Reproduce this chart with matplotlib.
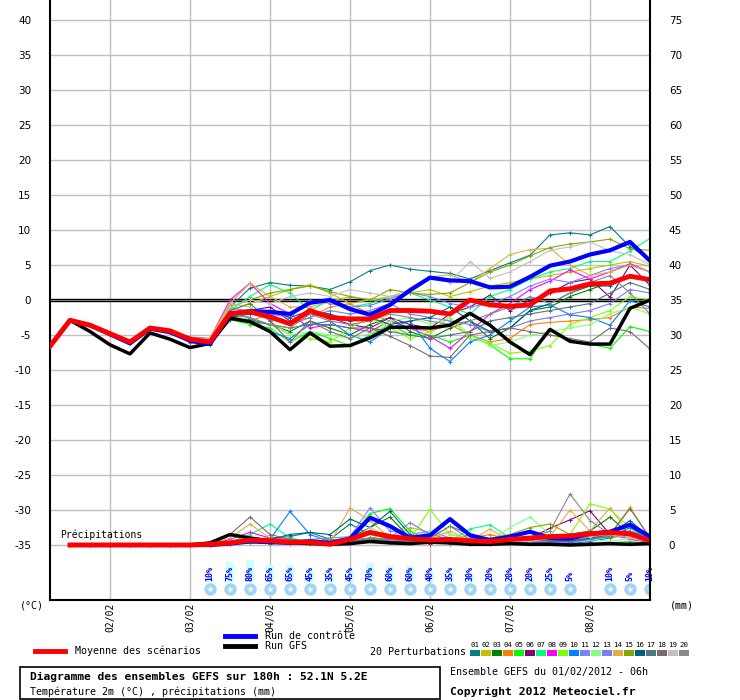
import numpy as np
import matplotlib.pyplot as plt
from matplotlib.patches import Rectangle

# pas de 6h depuis le 01/02/2012 06h
heures = np.arange(0, 181, 6)
heures_pluie = heures[1:]

jours = ['02/02', '03/02', '04/02', '05/02', '06/02', '07/02', '08/02']
jours_h = [18, 42, 66, 90, 114, 138, 162]

# temperatures (°C)
moyenne_t = [-6.6, -2.9, -3.6, -4.8, -6.0, -4.0, -4.4, -5.6, -6.0, -1.9, -1.7, -2.4, -3.4, -1.5, -2.5, -2.7,
             -2.7, -1.5, -1.5, -1.6, -2.0, 0.0, -0.7, -0.9, -0.7, 1.3, 1.6, 2.3, 2.4, 3.4, 2.9]
gfs_t = [-6.6, -2.9, -4.5, -6.4, -7.7, -4.7, -5.6, -6.8, -6.2, -2.6, -3.1, -4.5, -7.1, -4.7, -6.6, -6.5,
         -5.4, -3.9, -3.9, -4.0, -3.6, -1.9, -3.6, -6.0, -7.8, -4.2, -5.9, -6.3, -6.3, -1.2, 0.0]
controle_t = [-6.6, -2.9, -3.6, -4.9, -6.2, -4.1, -4.6, -5.8, -6.3, -2.0, -1.6, -1.7, -2.0, -0.4, 0.0, -1.3,
              -2.1, -0.7, 1.4, 3.2, 2.8, 2.7, 1.8, 1.9, 3.3, 4.9, 5.5, 6.5, 7.1, 8.3, 5.6]

debut_t = [-6.6, -2.9, -3.5, -4.8, -6.1, -4.0, -4.5]
pert_t = [
    [-5.5, -5.6, -1.0, 1.7, 2.5, 2.1, 2.0, 1.5, 2.6, 4.2, 5.0, 4.4, 4.1, 3.8, 3.0, 4.2, 5.3, 6.4, 9.3, 9.6, 9.3, 10.5, 7.6, 5.9],
    [-5.8, -6.0, -1.5, -0.5, 0.5, 1.5, 2.2, 1.0, -0.5, 0.0, 0.3, 1.0, 1.5, 0.5, 1.2, 2.0, 2.5, 3.0, 3.5, 4.0, 4.5, 5.0, 5.5, 4.8],
    [-5.6, -6.1, -2.5, -2.8, -3.5, -4.5, -3.0, -4.0, -5.0, -3.5, -2.5, -4.5, -5.5, -4.0, -3.0, -5.5, -4.0, -1.5, -1.0, 0.5, 1.5, 2.5, 3.5, 3.0],
    [-5.7, -6.0, -2.2, -3.0, -2.0, -3.5, -2.5, -1.0, -0.5, -2.0, -3.0, -4.0, -4.5, -3.5, -5.0, -6.0, -5.5, -3.5, -3.2, -3.0, -2.8, -2.5, -1.0, -1.2],
    [-5.9, -6.2, -2.8, -3.5, -4.0, -6.0, -4.5, -5.5, -6.5, -5.0, -3.5, -5.0, -5.0, -6.0, -5.0, -6.4, -8.4, -8.4, -4.2, -5.9, -6.3, -6.9, -3.8, -4.5],
    [-6.0, -6.3, -2.5, -1.5, -1.0, -3.0, -2.0, -2.5, -3.5, -4.0, -2.5, -3.5, -4.0, -2.0, -1.0, 0.7, -1.5, 0.0, 1.0, 2.5, 3.0, 0.4, 5.0, 2.1],
    [-5.5, -5.8, -1.5, 0.5, 2.2, 1.0, -1.5, 0.0, -1.0, -0.5, 0.5, 1.0, 0.0, -1.0, -2.0, 0.5, 1.5, 3.0, 4.0, 4.5, 5.5, 5.5, 7.0, 8.8],
    [-5.3, -5.5, 0.0, 2.4, -0.5, -2.0, -4.0, -3.5, -4.0, -4.5, -3.0, -4.0, -5.2, -6.9, -4.5, -2.0, -0.5, 1.5, 2.7, 4.3, 3.0, 4.0, 5.2, 4.0],
    [-5.4, -5.6, -0.5, -1.0, -3.0, -5.0, -5.5, -6.0, -4.0, -2.5, -4.0, -5.5, -4.5, -2.5, -5.5, -6.2, -7.6, -7.3, -6.5, -3.5, -2.5, -1.5, 0.5, 0.0],
    [-5.7, -6.0, -2.0, -2.5, -4.5, -5.5, -3.5, -3.0, -5.0, -6.0, -4.0, -3.0, -6.9, -8.8, -6.0, -5.0, -3.0, -1.0, -0.7, -2.1, -2.5, -3.6, -0.1, -1.0],
    [-5.6, -5.9, -1.2, -1.5, -2.0, -2.5, 0.0, -0.5, -1.0, -0.8, 0.2, 1.0, 0.5, -0.5, -1.0, -0.5, 0.5, 2.0, 3.0, 2.5, 3.5, 4.5, 5.0, 4.0],
    [-5.8, -6.1, -2.0, -3.0, -3.5, -5.0, -4.5, -5.0, -5.5, -4.8, -3.0, -2.5, -3.5, -2.5, -5.0, -6.5, -6.0, -5.0, -4.5, -4.0, -3.5, -2.0, -1.0, -2.0],
    [-5.9, -6.2, -2.3, -1.8, -2.8, -3.5, -2.5, -1.5, -2.0, -1.5, -0.5, -2.0, -2.5, -3.0, -3.5, -4.5, -4.0, -3.0, -2.5, -2.0, -1.5, -0.5, 1.5, 1.0],
    [-5.4, -5.5, -0.5, 2.4, 0.5, -1.0, -1.0, -0.2, 0.5, 0.0, 0.5, 1.0, 3.3, 3.6, 2.5, 4.5, 6.5, 7.2, 7.4, 5.0, 3.5, 4.0, 5.0, 4.0],
    [-5.5, -5.7, -1.0, 0.0, 1.0, 1.5, 2.0, 1.2, 0.5, 0.0, 1.5, 1.0, 0.8, 1.0, 2.5, 4.0, 5.0, 6.3, 7.5, 8.0, 8.3, 8.7, 7.3, 7.1],
    [-5.8, -6.0, -2.5, -2.0, -1.5, -2.5, -1.5, -2.0, -3.0, -2.5, -3.5, -3.0, -2.5, -1.0, -3.0, -4.5, -4.0, -1.5, -0.5, 1.0, 2.0, 2.0, 3.5, 3.0],
    [-6.1, -6.4, -2.8, -3.0, -3.5, -4.0, -3.5, -3.5, -4.0, -4.0, -4.5, -5.0, -5.5, -5.0, -4.5, -3.0, -2.5, -2.0, -1.5, -1.0, -0.5, 1.0, 2.5, 1.5],
    [-5.4, -5.7, -1.5, -0.5, -3.0, -6.0, -3.0, -4.5, -5.5, -4.0, -5.2, -6.5, -8.0, -8.2, -5.0, -4.5, -4.0, -4.5, -5.0, -5.5, -6.0, -4.0, -4.5, -7.0],
    [-5.5, -5.6, -1.0, 0.0, -0.5, 0.5, 1.0, 0.5, 1.5, 1.0, 0.5, 1.5, 3.0, 2.5, 5.5, 3.1, 4.0, 5.5, 7.1, 7.6, 8.3, 7.0, 6.5, 5.0],
    [-5.7, -5.9, -2.0, -2.5, -3.5, -4.0, -2.0, -3.0, -3.5, -3.0, -2.0, -2.5, -3.0, -3.5, -3.0, -2.0, -1.0, 0.5, -0.5, 1.0, 2.5, 3.5, 1.0, -2.0],
]

# precipitations (mm), a partir de +6h
debut_p = [0, 0, 0, 0, 0, 0]
moyenne_p = [0.0, 0.1, 0.3, 0.7, 0.6, 0.4, 0.4, 0.1, 0.8, 1.8, 1.2, 0.9, 0.7, 0.8, 0.6, 0.5, 0.8, 1.0, 1.2, 1.3, 1.6, 1.8, 1.6, 0.6]
gfs_p = [0.0, 0.3, 1.5, 1.0, 0.6, 0.3, 0.2, 0.1, 0.2, 0.5, 0.3, 0.2, 0.4, 0.3, 0.1, 0.1, 0.2, 0.1, 0.1, 0.0, 0.1, 0.2, 0.1, 0.2]
controle_p = [0.0, 0.0, 0.2, 0.5, 0.4, 0.3, 0.5, 0.3, 0.9, 3.9, 2.7, 1.0, 1.4, 3.7, 1.4, 0.7, 1.2, 1.9, 1.0, 0.9, 1.6, 1.9, 2.9, 1.2]
pert_p = [
    [0, 0.1, 0.5, 0.8, 1.0, 1.2, 1.8, 0.8, 3.0, 1.5, 1.0, 0.5, 0.8, 0.5, 1.5, 0.4, 0.6, 0.8, 1.0, 0.5, 1.2, 1.5, 1.0, 0.3],
    [0, 0, 0.2, 0.4, 0.3, 0.5, 0.3, 0.2, 0.6, 1.5, 0.8, 2.5, 1.8, 0.5, 0.3, 0.8, 0.6, 0.5, 0.4, 1.2, 0.8, 1.5, 5.4, 1.0],
    [0, 0, 0.3, 0.5, 0.2, 0.3, 0.6, 0.4, 1.0, 2.5, 4.0, 1.0, 0.6, 0.2, 0.4, 0.3, 1.0, 0.5, 1.5, 0.8, 2.0, 4.0, 1.5, 1.0],
    [0, 0.1, 0.4, 1.0, 0.5, 0.8, 0.3, 0.5, 1.2, 2.0, 1.5, 0.8, 0.5, 0.6, 1.0, 1.5, 0.8, 0.5, 0.3, 0.6, 1.5, 2.0, 1.2, 0.4],
    [0, 0, 0.2, 0.3, 0.5, 0.3, 0.2, 0.5, 1.0, 4.5, 5.2, 2.0, 0.5, 1.0, 0.5, 0.3, 0.5, 0.8, 0.5, 0.3, 0.2, 0.3, 0.5, 0.2],
    [0, 0, 0.3, 0.8, 0.4, 0.2, 0.3, 0.2, 0.5, 0.8, 0.5, 0.4, 0.2, 0.3, 0.2, 0.4, 0.3, 1.0, 2.4, 3.6, 4.9, 1.5, 1.0, 0.3],
    [0, 0, 0.4, 1.5, 3.0, 1.0, 0.5, 0.3, 0.8, 2.0, 1.5, 0.6, 1.0, 0.5, 2.3, 2.9, 1.0, 0.5, 1.5, 1.0, 0.8, 1.2, 2.5, 0.5],
    [0, 0.1, 0.8, 1.8, 1.0, 0.8, 0.5, 0.3, 0.5, 1.0, 0.6, 0.4, 0.3, 0.5, 0.3, 0.4, 0.6, 0.5, 0.8, 0.6, 1.0, 1.5, 0.8, 0.4],
    [0, 0, 0.2, 0.5, 0.3, 0.2, 0.5, 0.3, 0.4, 1.0, 1.5, 0.8, 5.1, 1.5, 0.8, 0.5, 0.3, 0.8, 1.0, 1.5, 5.9, 5.1, 2.5, 0.8],
    [0, 0, 0.3, 0.5, 0.8, 4.8, 1.5, 0.5, 0.3, 1.0, 0.5, 0.3, 0.5, 0.8, 0.3, 0.2, 0.5, 0.3, 0.4, 0.2, 0.5, 1.0, 2.5, 0.8],
    [0, 0, 0.2, 0.6, 0.4, 0.5, 0.8, 1.0, 1.2, 5.3, 2.0, 1.5, 2.0, 1.0, 0.5, 0.3, 0.6, 0.4, 0.5, 0.3, 0.8, 1.5, 2.0, 1.0],
    [0, 0, 0.3, 0.5, 0.6, 0.3, 0.4, 0.5, 0.6, 1.5, 1.0, 0.8, 2.0, 1.5, 1.0, 0.5, 2.5, 4.0, 1.5, 1.0, 0.8, 0.5, 1.0, 0.4],
    [0, 0, 0.2, 0.4, 0.3, 0.5, 0.3, 0.2, 0.4, 0.6, 1.0, 3.2, 1.5, 0.8, 0.5, 0.3, 0.5, 0.8, 0.6, 0.5, 1.0, 2.0, 2.8, 1.5],
    [0, 0.1, 1.0, 3.0, 1.0, 0.6, 0.5, 0.3, 5.3, 3.5, 1.0, 0.5, 0.8, 2.0, 0.6, 2.3, 0.5, 0.8, 1.2, 5.0, 2.0, 5.3, 1.5, 0.5],
    [0, 0, 0.3, 0.5, 0.4, 0.3, 0.5, 0.8, 0.6, 1.0, 0.8, 0.5, 0.6, 0.4, 0.8, 1.0, 1.5, 2.5, 3.0, 1.5, 2.0, 1.0, 1.5, 0.6],
    [0, 0, 0.2, 0.5, 0.8, 1.5, 1.8, 1.5, 3.7, 2.5, 4.8, 1.5, 0.8, 0.5, 0.3, 0.5, 0.8, 1.0, 0.6, 0.5, 1.0, 1.5, 3.5, 1.0],
    [0, 0, 0.3, 0.6, 0.4, 0.5, 0.8, 0.5, 0.6, 1.0, 0.8, 0.6, 1.0, 2.7, 1.5, 0.8, 0.5, 0.8, 0.6, 0.5, 0.8, 1.2, 2.0, 0.8],
    [0, 0.2, 1.5, 4.0, 1.5, 0.8, 0.5, 0.3, 0.6, 0.8, 0.5, 0.4, 0.6, 0.5, 0.3, 0.4, 0.5, 0.6, 0.8, 1.5, 2.0, 1.5, 5.2, 1.0],
    [0, 0, 0.2, 0.4, 0.3, 0.2, 0.4, 0.3, 0.5, 2.5, 1.0, 0.5, 0.4, 0.3, 0.5, 0.8, 0.6, 0.5, 1.0, 0.8, 1.2, 1.5, 1.0, 0.5],
    [0, 0, 0.3, 0.5, 0.4, 0.3, 0.5, 0.4, 0.6, 1.0, 0.8, 0.5, 1.0, 2.7, 0.8, 0.5, 0.6, 1.0, 2.0, 7.3, 3.5, 1.5, 2.0, 0.4],
]

couleurs = ['#008080', '#c0c000', '#008000', '#ff8000', '#00ff00', '#800080', '#00ff80',
            '#ff00ff', '#80ff00', '#0080ff', '#8080ff', '#80ff80', '#7c7cf4', '#e0b040',
            '#80a800', '#006080', '#507880', '#806870', '#c0c0c0', '#888888']

# probabilite de neige
neige_h = heures[8:]
neige_pct = [10, 75, 80, 65, 65, 45, 35, 45, 70, 60, 60, 40, 35, 30, 20, 20, 20, 25, 5, 0, 10, 5, 10]

mono = 'DejaVu Sans Mono'
base_p = -35  # 0 mm sur l'axe des temperatures

fig = plt.figure(figsize=(7.4, 7.0), dpi=100)
ax = fig.add_axes([50/740, 100/700, 600/740, 600/700])
ax.set_xlim(0, 180)
ax.set_ylim(-300/7, 300/7)

yticks = list(range(-35, 41, 5))
for y in yticks:
    ax.axhline(y, color='#c0c0c0', lw=1, zorder=1)
for h in jours_h:
    ax.axvline(h, color='#c0c0c0', lw=1, zorder=1)
ax.axhline(0.17, color='black', lw=1, zorder=2)
ax.axhline(-0.17, color='black', lw=1, zorder=2)

for k in range(20):
    t = debut_t + pert_t[k]
    p = np.array(debut_p + pert_p[k]) + base_p
    ax.plot(heures, t, color=couleurs[k], lw=0.8, marker='+', ms=3, mew=0.7, zorder=3)
    ax.plot(heures_pluie, p, color=couleurs[k], lw=0.8, marker='+', ms=3, mew=0.7, zorder=3)

ax.plot(heures, gfs_t, color='black', lw=2.5, zorder=4)
ax.plot(heures_pluie, np.array(debut_p + gfs_p) + base_p, color='black', lw=2.5, zorder=4)
ax.plot(heures, controle_t, color='blue', lw=3, zorder=5)
ax.plot(heures_pluie, np.array(debut_p + controle_p) + base_p, color='blue', lw=3, zorder=5)
ax.plot(heures, moyenne_t, color='red', lw=3.5, zorder=6)
ax.plot(heures_pluie, np.array(debut_p + moyenne_p) + base_p, color='red', lw=3.5, zorder=6)

ax.text(3, -34.3, 'Précipitations', family=mono, fontsize=7, va='bottom', zorder=7)

# flocons
for h, pct in zip(neige_h, neige_pct):
    if pct == 0:
        continue
    ax.add_patch(Rectangle((h - 1.2, -40.3), 2.4, pct * 0.27 / 7, color='#ccffff', lw=0, zorder=2))
    ax.text(h, -40.1, f'{pct}%', rotation=90, ha='center', va='bottom', color='blue',
            family=mono, fontsize=6, fontweight='bold', zorder=3)
    ax.scatter([h], [-41.3], s=80, color='#9fd4f2', zorder=3, lw=0)
    ax.scatter([h], [-41.3], s=30, marker='*', color='#e8f6ff', zorder=4, lw=0)

ax.set_yticks(yticks)
ax.set_yticklabels([str(v) for v in yticks], fontsize=7.5)
ax.set_xticks(jours_h)
ax.set_xticklabels(jours, rotation=90, family=mono, fontsize=7)
ax.tick_params(axis='y', length=0, pad=13.5)
ax.tick_params(axis='x', length=0, pad=2)

ax2 = ax.twinx()
ax2.set_ylim(ax.get_ylim())
ax2.set_yticks(yticks)
ax2.set_yticklabels([str(v + 35) for v in yticks], fontsize=7.5)
ax2.tick_params(axis='y', length=0, pad=13.5)
for s in ['top', 'left', 'bottom']:
    ax2.spines[s].set_visible(False)
ax2.spines['right'].set_linewidth(1.5)
ax.spines['top'].set_visible(False)
ax.spines['right'].set_visible(False)
ax.spines['left'].set_linewidth(1.5)
ax.spines['bottom'].set_linewidth(1.5)


def fx(x):
    return x / 740


def fy(y):
    return 1 - y / 700


fig.text(fx(20), fy(606), '(°C)', family=mono, fontsize=7.2, va='center')
fig.text(fx(670), fy(606), '(mm)', family=mono, fontsize=7.2, va='center')

# legende
fig.add_artist(plt.Line2D([fx(35), fx(65)], [fy(651), fy(651)], color='red', lw=3.5))
fig.text(fx(75), fy(651), 'Moyenne des scénarios', family=mono, fontsize=7.2, va='center')
fig.add_artist(plt.Line2D([fx(225), fx(255)], [fy(636), fy(636)], color='blue', lw=3.5))
fig.text(fx(265), fy(636), 'Run de contrôle', family=mono, fontsize=7.2, va='center')
fig.add_artist(plt.Line2D([fx(225), fx(255)], [fy(646), fy(646)], color='black', lw=3.5))
fig.text(fx(265), fy(646), 'Run GFS', family=mono, fontsize=7.2, va='center')
fig.text(fx(370), fy(652), '20 Perturbations', family=mono, fontsize=7.2, va='center')
for k in range(20):
    x0 = 470 + k * 11
    fig.add_artist(Rectangle((fx(x0), fy(656)), 10/740, 6/700, color=couleurs[k], lw=0))
    fig.text(fx(x0 + 5), fy(645), f'{k + 1:02d}', family=mono, fontsize=5.3, ha='center', va='center')

fig.add_artist(Rectangle((fx(20), fy(699)), 420/740, 32/700, fill=False, ec='black', lw=1.2))
fig.text(fx(30), fy(677), 'Diagramme des ensembles GEFS sur 180h : 52.1N 5.2E', family=mono,
         fontsize=8.1, fontweight='bold', va='center')
fig.text(fx(30), fy(692), 'Température 2m (°C) , précipitations (mm)', family=mono, fontsize=7.2, va='center')
fig.text(fx(450), fy(672), 'Ensemble GEFS du 01/02/2012 - 06h', family=mono, fontsize=7.2, va='center')
fig.text(fx(450), fy(692), 'Copyright 2012 Meteociel.fr', family=mono, fontsize=8.2,
         fontweight='bold', va='center')

fig.savefig('out.png', dpi=100)
